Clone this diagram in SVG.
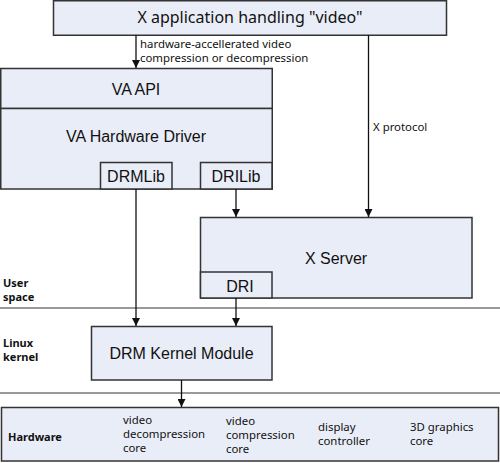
<svg xmlns="http://www.w3.org/2000/svg" width="500" height="463" viewBox="0 0 500 463">
<style>
.box{fill:#e9edf8;stroke:#333;stroke-width:1.5}
.sans{font-family:"Liberation Sans",Arial,sans-serif;fill:#111}
.noto{font-family:"Noto Sans","Open Sans",sans-serif;fill:#111}
.big{font-size:16px}
.sm{font-size:11.4px}
.b{font-weight:bold;font-size:11px}
.line{stroke:#111;stroke-width:1.3;fill:none}
.sep{stroke:#777;stroke-width:1.3}
</style>
<defs>
<marker id="ah" viewBox="0 0 10 10" refX="10" refY="5" markerWidth="8" markerHeight="8" markerUnits="userSpaceOnUse" orient="auto">
<path d="M0,0 L10,5 L0,10 z" fill="#111"/>
</marker>
</defs>
<rect width="500" height="463" fill="#fff"/>
<line class="sep" x1="0" y1="308" x2="500" y2="308"/>
<line class="sep" x1="0" y1="393" x2="500" y2="393"/>
<text class="noto b" x="3" y="287">User</text>
<text class="noto b" x="3" y="301">space</text>
<text class="noto b" x="3" y="347">Linux</text>
<text class="noto b" x="3" y="361">kernel</text>
<g id="app">
<rect class="box" x="53.5" y="0.75" width="393" height="34.5"/>
<text class="noto big" x="250" y="23" text-anchor="middle">X application handling "video"</text>
</g>
<g id="vaapi">
<rect class="box" x="0.75" y="68.5" width="271.5" height="40"/>
<text class="sans big" x="136" y="95" text-anchor="middle">VA API</text>
</g>
<g id="vadriver">
<rect class="box" x="0.75" y="108.5" width="271.5" height="80.5"/>
<text class="sans big" x="136" y="142" text-anchor="middle">VA Hardware Driver</text>
</g>
<g id="drmlib">
<rect class="box" x="100.5" y="162.5" width="71.5" height="26.5"/>
<text class="sans big" x="136" y="182" text-anchor="middle">DRMLib</text>
</g>
<g id="drilib">
<rect class="box" x="200.5" y="162.5" width="71.5" height="26.5"/>
<text class="sans big" x="236" y="182" text-anchor="middle">DRILib</text>
</g>
<g id="xserver">
<rect class="box" x="200.5" y="217.5" width="271.5" height="80.5"/>
<text class="sans big" x="336" y="264" text-anchor="middle">X Server</text>
</g>
<g id="dri">
<rect class="box" x="200.5" y="272" width="71.5" height="26"/>
<text class="sans big" x="240" y="292" text-anchor="middle">DRI</text>
</g>
<g id="drm">
<rect class="box" x="91.5" y="326.5" width="180.5" height="53.5"/>
<text class="sans big" x="181.5" y="359" text-anchor="middle">DRM Kernel Module</text>
</g>
<g id="hardware">
<rect class="box" x="1.5" y="407.5" width="497" height="53.5"/>
<text class="noto b" x="8" y="441">Hardware</text>
<text class="noto sm"><tspan x="123" y="424">video</tspan><tspan x="123" y="438">decompression</tspan><tspan x="123" y="452">core</tspan></text>
<text class="noto sm"><tspan x="226" y="425">video</tspan><tspan x="226" y="439">compression</tspan><tspan x="226" y="453">core</tspan></text>
<text class="noto sm"><tspan x="318" y="431">display</tspan><tspan x="318" y="445">controller</tspan></text>
<text class="noto sm"><tspan x="410" y="431">3D graphics</tspan><tspan x="410" y="445">core</tspan></text>
</g>
<g id="connectors">
<line class="line" x1="136" y1="35" x2="136" y2="68" marker-end="url(#ah)"/>
<text class="noto sm" x="140" y="48">hardware-accellerated video</text>
<text class="noto sm" x="140" y="62">compression or decompression</text>
<line class="line" x1="368.5" y1="35" x2="368.5" y2="217" marker-end="url(#ah)"/>
<text class="noto sm" x="373" y="131">X protocol</text>
<line class="line" x1="136" y1="189" x2="136" y2="326" marker-end="url(#ah)"/>
<line class="line" x1="236" y1="189" x2="236" y2="217" marker-end="url(#ah)"/>
<line class="line" x1="236" y1="298" x2="236" y2="326" marker-end="url(#ah)"/>
<line class="line" x1="181.5" y1="380" x2="181.5" y2="407" marker-end="url(#ah)"/>
</g>
</svg>
